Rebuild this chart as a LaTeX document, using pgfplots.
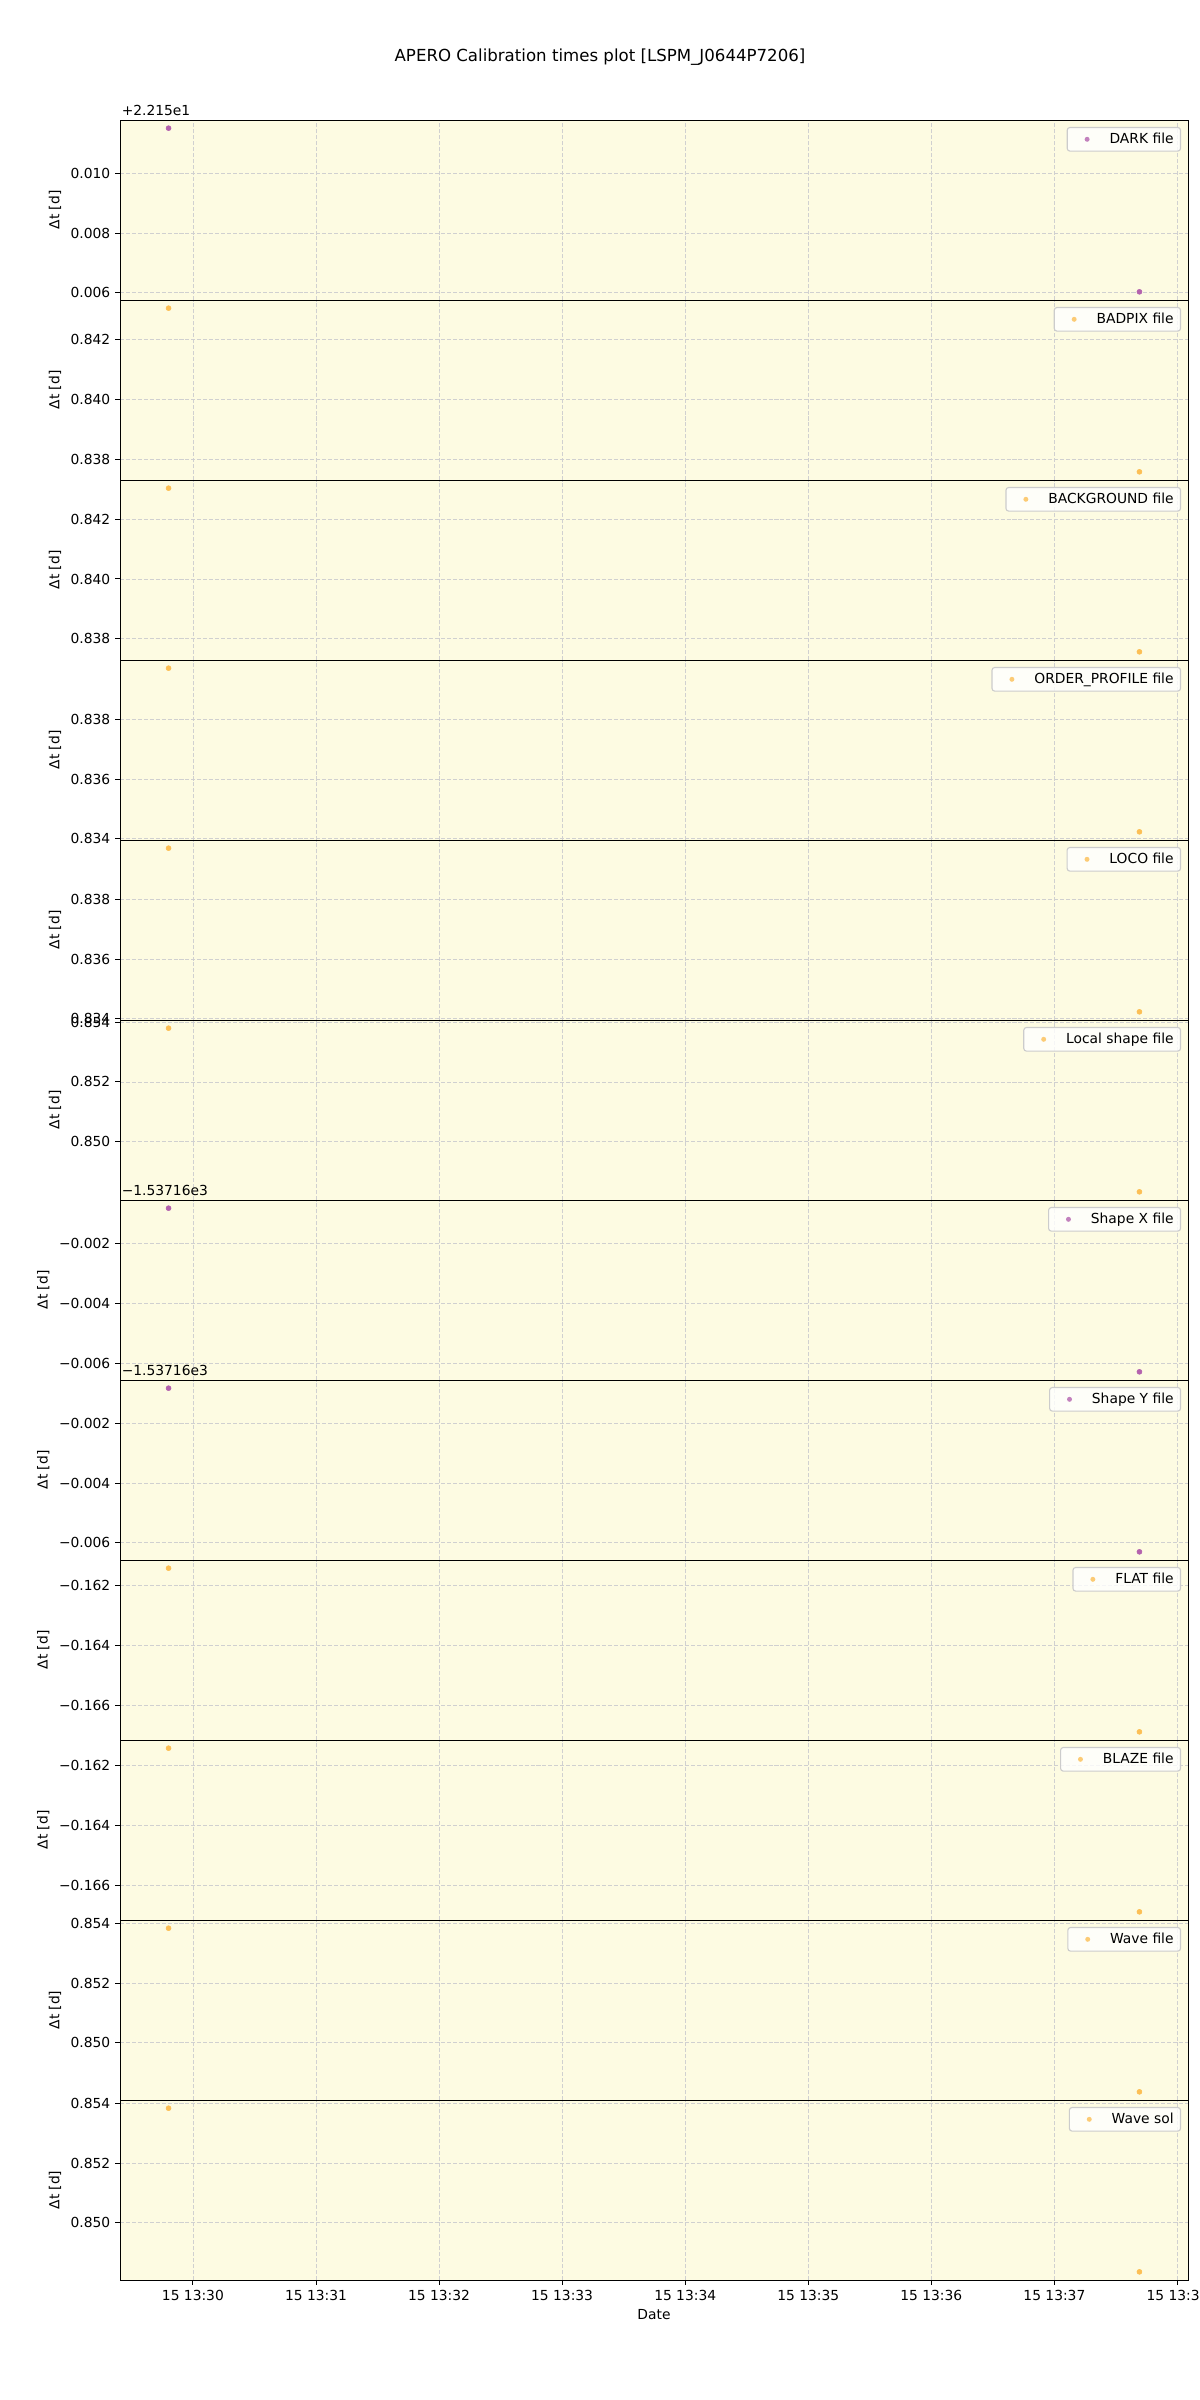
\documentclass[border=0pt]{standalone}
\usepackage{fontspec}
\setmainfont{DejaVu Sans}
\usepackage{pgfplots}
\pgfplotsset{compat=1.18}

\definecolor{bgyel}{HTML}{FDFBE2}
\definecolor{gridc}{HTML}{D0D0D0}
\definecolor{ptorange}{HTML}{FCBF55}
\definecolor{ptpurple}{HTML}{B462AE}

% one strip of the stacked figure; 1px of the reference = 0.01in
\pgfplotsset{
  panel/.style={
    scale only axis, width=10.68in, height=1.8in,
    anchor=north west,
    xmin=29.4075, xmax=38.0855,
    xtick={30,31,32,33,34,35,36,37,38},
    scaled y ticks=false, scaled x ticks=false,
    axis background/.style={fill=bgyel},
    grid=major,
    major grid style={gridc, line width=0.6pt, dash pattern=on 2.9pt off 1.4pt},
    axis line style={line width=0.7pt},
    tick align=outside, ytick pos=left, xtick pos=lower,
    major tick length=3.5pt,
    every tick/.style={black, line width=0.7pt},
    tick label style={font=\fontsize{10}{12}\selectfont},
    /pgf/number format/assume math mode=true,
    ylabel={Δt [d]}, ylabel style={font=\fontsize{10}{12}\selectfont},
    legend style={at={(1,1)}, anchor=north east, xshift=-5pt, yshift=-5pt,
      draw=black!20, line width=0.8pt, rounded corners=2pt,
      fill=white, fill opacity=0.8, text opacity=1,
      font=\fontsize{10}{12}\selectfont, inner xsep=3pt, inner ysep=2pt},
  },
  inner/.style={xticklabel={}, major x tick style={draw=none}},
  dots/.style={only marks, mark=*, mark size=1.8pt, color=#1,
    mark options={draw=none, fill=#1},
    legend image code/.code={\path[draw=none, fill=none] (0cm,0cm) -- (0.9cm,0cm);
      \path[draw=none, fill=#1] (0.4cm,0cm) circle[radius=1.8pt];}},
}

\begin{document}
\begin{tikzpicture}

% DARK
\begin{axis}[panel, inner, at={(0in,0in)},
  ymin=0.005758, ymax=0.011785,
  ytick={0.006,0.008,0.010}, yticklabels={0.006,0.008,0.010}]
\addplot[dots=ptpurple] coordinates {(29.802,0.011511) (37.691,0.006032)};
\addlegendentry{DARK file}
\end{axis}

% BADPIX
\begin{axis}[panel, inner, at={(0in,-1.8in)},
  ymin=0.837297, ymax=0.843324,
  ytick={0.838,0.840,0.842}, yticklabels={0.838,0.840,0.842}]
\addplot[dots=ptorange] coordinates {(29.802,0.843050) (37.691,0.837571)};
\addlegendentry{BADPIX file}
\end{axis}

% BACKGROUND
\begin{axis}[panel, inner, at={(0in,-3.6in)},
  ymin=0.837287, ymax=0.843314,
  ytick={0.838,0.840,0.842}, yticklabels={0.838,0.840,0.842}]
\addplot[dots=ptorange] coordinates {(29.802,0.843040) (37.691,0.837561)};
\addlegendentry{BACKGROUND file}
\end{axis}

% ORDER_PROFILE
\begin{axis}[panel, inner, at={(0in,-5.4in)},
  ymin=0.833957, ymax=0.839984,
  ytick={0.834,0.836,0.838}, yticklabels={0.834,0.836,0.838}]
\addplot[dots=ptorange] coordinates {(29.802,0.839710) (37.691,0.834231)};
\addlegendentry{ORDER\_PROFILE file}
\end{axis}

% LOCO
\begin{axis}[panel, inner, at={(0in,-7.2in)},
  ymin=0.833957, ymax=0.839984,
  ytick={0.834,0.836,0.838}, yticklabels={0.834,0.836,0.838}]
\addplot[dots=ptorange] coordinates {(29.802,0.839710) (37.691,0.834231)};
\addlegendentry{LOCO file}
\end{axis}

% Local shape
\begin{axis}[panel, inner, at={(0in,-9.0in)},
  ymin=0.848047, ymax=0.854074,
  ytick={0.850,0.852,0.854}, yticklabels={0.850,0.852,0.854}]
\addplot[dots=ptorange] coordinates {(29.802,0.853800) (37.691,0.848321)};
\addlegendentry{Local shape file}
\end{axis}

% Shape X
\begin{axis}[panel, inner, at={(0in,-10.8in)},
  ymin=-0.006568, ymax=-0.000541,
  ytick={-0.006,-0.004,-0.002}, yticklabels={−0.006,−0.004,−0.002}]
\addplot[dots=ptpurple] coordinates {(29.802,-0.000815) (37.691,-0.006294)};
\addlegendentry{Shape X file}
\end{axis}

% Shape Y
\begin{axis}[panel, inner, at={(0in,-12.6in)},
  ymin=-0.006578, ymax=-0.000551,
  ytick={-0.006,-0.004,-0.002}, yticklabels={−0.006,−0.004,−0.002}]
\addplot[dots=ptpurple] coordinates {(29.802,-0.000825) (37.691,-0.006304)};
\addlegendentry{Shape Y file}
\end{axis}

% FLAT
\begin{axis}[panel, inner, at={(0in,-14.4in)},
  ymin=-0.167168, ymax=-0.161141,
  ytick={-0.166,-0.164,-0.162}, yticklabels={−0.166,−0.164,−0.162}]
\addplot[dots=ptorange] coordinates {(29.802,-0.161415) (37.691,-0.166894)};
\addlegendentry{FLAT file}
\end{axis}

% BLAZE
\begin{axis}[panel, inner, at={(0in,-16.2in)},
  ymin=-0.167173, ymax=-0.161146,
  ytick={-0.166,-0.164,-0.162}, yticklabels={−0.166,−0.164,−0.162}]
\addplot[dots=ptorange] coordinates {(29.802,-0.161420) (37.691,-0.166899)};
\addlegendentry{BLAZE file}
\end{axis}

% Wave file
\begin{axis}[panel, inner, at={(0in,-18.0in)},
  ymin=0.848087, ymax=0.854114,
  ytick={0.850,0.852,0.854}, yticklabels={0.850,0.852,0.854}]
\addplot[dots=ptorange] coordinates {(29.802,0.853840) (37.691,0.848361)};
\addlegendentry{Wave file}
\end{axis}

% Wave sol (bottom, carries the dates)
\begin{axis}[panel, at={(0in,-19.8in)},
  ymin=0.848087, ymax=0.854114,
  ytick={0.850,0.852,0.854}, yticklabels={0.850,0.852,0.854},
  xticklabels={15 13:30,15 13:31,15 13:32,15 13:33,15 13:34,15 13:35,15 13:36,15 13:37,15 13:38},
  xlabel={Date}, xlabel style={font=\fontsize{10}{12}\selectfont}]
\addplot[dots=ptorange] coordinates {(29.802,0.853840) (37.691,0.848361)};
\addlegendentry{Wave sol}
\end{axis}

% offset texts and title
\begin{scope}[every node/.style={font=\fontsize{10}{12}\selectfont, inner sep=0pt, anchor=base west}]
\node at (0.015in,0.045in) {+2.215e1};
\node at (0.015in,-10.755in) {−1.53716e3};
\node at (0.015in,-12.555in) {−1.53716e3};
\end{scope}
\node[anchor=base, font=\fontsize{12}{14}\selectfont] at (4.8in,0.58in)
  {APERO Calibration times plot [LSPM\_J0644P7206]};

\pgfresetboundingbox
\path (-1.2in,-22.8in) rectangle (10.8in,1.2in);
\end{tikzpicture}
\end{document}
